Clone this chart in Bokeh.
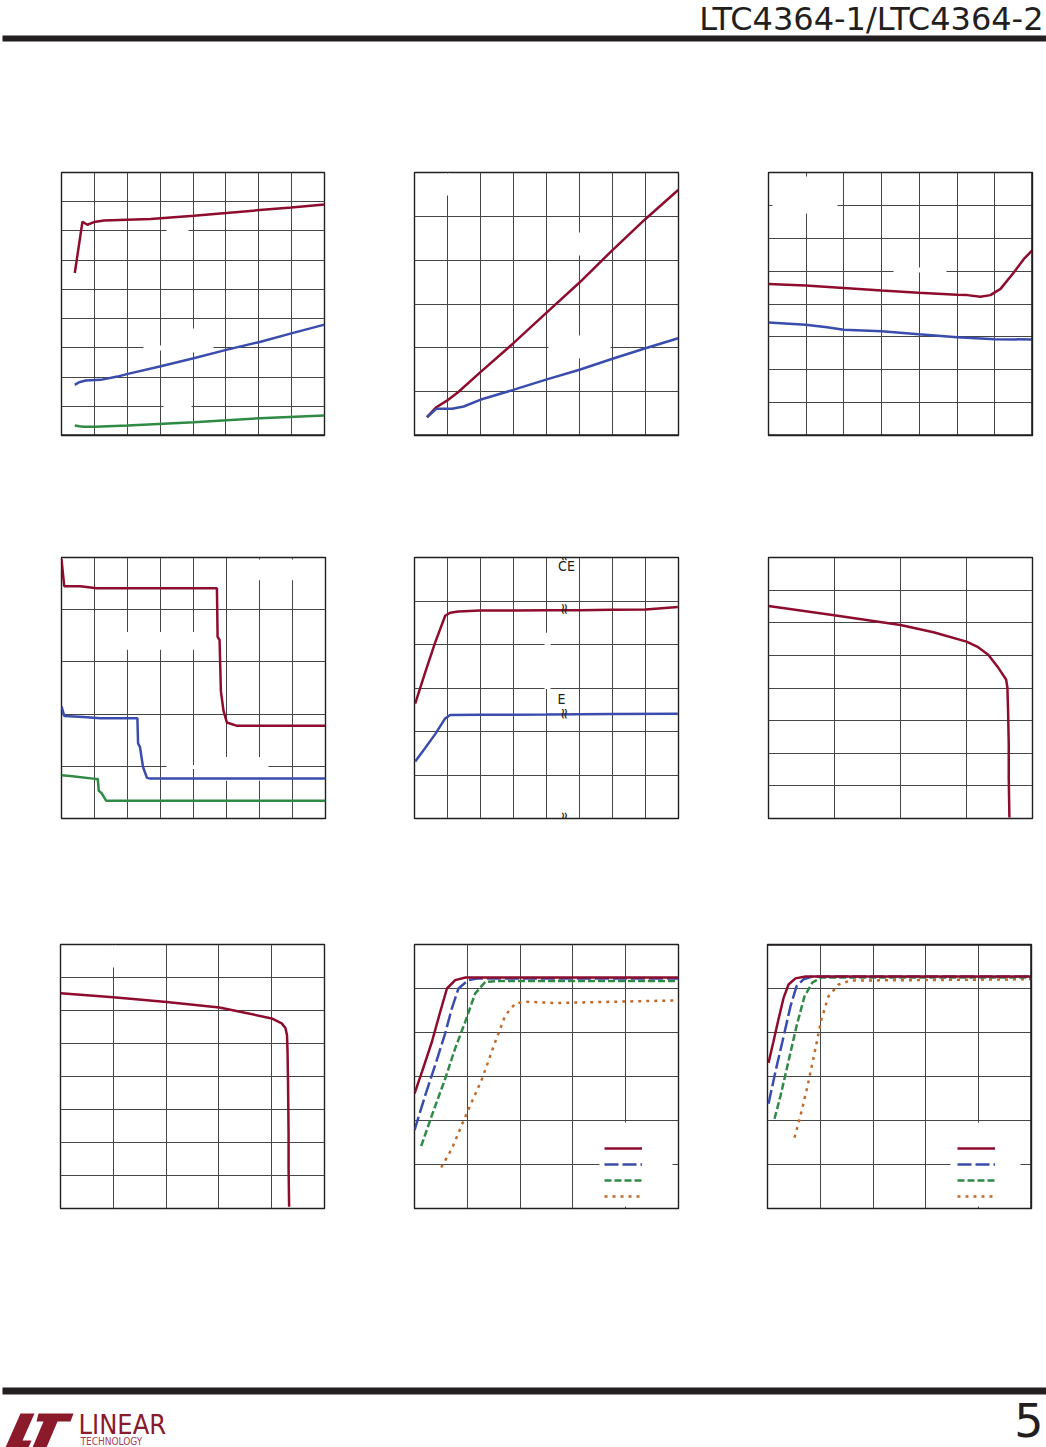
import math
from bokeh.plotting import figure
from bokeh.models import (Range1d, Grid, FixedTicker, BoxAnnotation, Label, Legend,
                          LegendItem, Span)
from bokeh.layouts import column, row
from bokeh.embed import file_html
from bokeh.resources import INLINE

# ---------------- DATA ----------------
# Panel 1 (x 0..80, y 0..450)
p1_red_x = [4.04, 6.37, 7.88, 9.9, 12.9, 27.1, 40.3, 50.1, 60.3, 69.9, 80.0]
p1_red_y = [278, 365.7, 360.6, 365.2, 368, 370.3, 376, 380.6, 385.7, 390.2, 395.3]
p1_blue_x = [4.04, 5.35, 7.38, 11.9, 17.0, 20.2, 30.2, 40.2, 50.1, 60.3, 69.9, 80.0]
p1_blue_y = [86.6, 91.1, 94.0, 95.2, 100.8, 105.4, 118.4, 132.1, 146.5, 160.1, 174.8, 189.7]
p1_green_x = [4.04, 5.35, 6.86, 10.2, 20.2, 40.2, 60.3, 80.0]
p1_green_y = [17.1, 15.9, 14.9, 14.9, 17.1, 22.7, 29.6, 34.2]

# Panel 2 (x 0..80, y 0..60)
p2_red_x = [3.77, 6.62, 10.2, 13.2, 19.9, 29.9, 40.1, 50.0, 60.0, 70.0, 79.9]
p2_red_y = [4.17, 6.45, 8.14, 9.87, 14.4, 21.0, 28.1, 34.9, 42.3, 49.4, 56.0]
p2_blue_x = [3.77, 6.62, 11.4, 14.9, 19.9, 29.9, 40.1, 50.0, 60.0, 70.0, 79.9]
p2_blue_y = [4.17, 6.08, 6.08, 6.61, 8.14, 10.4, 12.8, 15.0, 17.5, 19.9, 22.2]

# Panel 3 (x -50..125, y 0..8)
p3_red_x = [-50, -25.4, -0.2, 25.0, 49.5, 75.0, 81.7, 90.5, 97.1, 103.8, 112.6, 119.3, 125]
p3_red_y = [4.61, 4.56, 4.49, 4.41, 4.34, 4.28, 4.27, 4.22, 4.27, 4.46, 4.96, 5.37, 5.64]
p3_blue_x = [-50, -25.4, -11.2, -0.2, 25, 49.5, 75, 100.2, 125]
p3_blue_y = [3.44, 3.37, 3.29, 3.22, 3.17, 3.08, 2.99, 2.93, 2.92]

# Panel 4 (x 0..80, y 0..50)
p4_red_x = [0, 0.82, 5.67, 10.7, 47.1, 47.3, 47.9, 48.3, 49.1, 50.1, 53.2, 80]
p4_red_y = [49.7, 44.5, 44.5, 44.1, 44.1, 34.8, 34.2, 24.4, 20.6, 18.4, 17.75, 17.75]
p4_blue_x = [0, 0.82, 6.67, 11.7, 23.0, 23.2, 23.8, 24.7, 25.9, 26.9, 80]
p4_blue_y = [21.5, 19.65, 19.46, 19.2, 19.2, 14.4, 13.66, 9.86, 7.78, 7.64, 7.64]
p4_green_x = [0, 2.64, 10.2, 11.0, 11.3, 12.2, 13.5, 80]
p4_green_y = [8.27, 8.16, 7.59, 7.59, 5.31, 4.80, 3.41, 3.41]

# Panel 5 (x 0..80, y 0..60)
p5_red_x = [0.21, 3.24, 6.27, 9.3, 10.8, 13.3, 19.9, 30.0, 40.1, 50.0, 60.0, 70.0, 79.8]
p5_red_y = [26.4, 33.6, 40.5, 46.6, 47.3, 47.6, 47.8, 47.8, 47.9, 47.9, 48.0, 48.06, 48.6]
p5_blue_x = [0.21, 3.24, 6.27, 9.3, 10.8, 19.9, 40.1, 60.0, 79.8]
p5_blue_y = [13.1, 16.2, 19.4, 23.0, 23.8, 23.85, 23.9, 24.0, 24.1]
p5_labels = ["CE", "E"]

# Panel 6 (x 0..40, y 0..80)
p6_x = [0, 9.95, 20.0, 25.0, 30.0, 31.6, 33.3, 34.85, 36.0, 36.2, 36.3, 36.4, 36.4, 36.5]
p6_y = [65.1, 62.3, 59.3, 57.1, 54.2, 52.7, 50.2, 46.1, 42.6, 40.1, 33.0, 22.9, 12.7, 0.3]

# Panel 7 (x 0..50, y 0..80)
p7_x = [0, 10.0, 20.1, 30.1, 34.7, 40.0, 41.9, 42.6, 42.9, 43.0, 43.1, 43.2, 43.2, 43.3]
p7_y = [65.2, 64.0, 62.6, 60.9, 59.4, 57.6, 56.1, 54.7, 52.5, 47.5, 37.4, 22.2, 12.1, 0.5]

# Panel 8 (x 0..50, y 0..60)
p8_red_x = [0, 1.4, 3.3, 4.87, 6.14, 7.71, 9.66, 17.2, 50]
p8_red_y = [26.1, 31.0, 37.9, 44.7, 50.0, 51.9, 52.5, 52.5, 52.5]
p8_blue_x = [0, 2.03, 3.92, 5.81, 7.08, 8.33, 10.2, 12.1, 50]
p8_blue_y = [17.8, 25.7, 32.6, 39.8, 45.5, 50.0, 51.9, 52.3, 52.3]
p8_green_x = [1.27, 3.3, 5.81, 7.71, 9.6, 11.5, 13.4, 15.9, 50]
p8_green_y = [14.2, 21.2, 29.5, 36.4, 42.4, 48.9, 51.5, 51.7, 51.7]
p8_orange_x = [5.06, 7.08, 9.6, 12.8, 15.3, 17.2, 19.1, 21.0, 26.6, 50]
p8_orange_y = [9.32, 13.6, 20.8, 29.5, 37.9, 43.9, 46.6, 47.0, 46.7, 47.3]

# Panel 9 (x 0..50, y 0..60)
p9_red_x = [0.19, 1.14, 2.08, 3.03, 3.98, 5.30, 7.20, 50]
p9_red_y = [33.1, 38.0, 43.0, 47.8, 50.9, 52.3, 52.75, 52.75]
p9_blue_x = [0.19, 1.52, 2.84, 4.36, 5.49, 6.82, 8.52, 50]
p9_blue_y = [23.8, 31.2, 38.0, 46.0, 50.5, 52.1, 52.75, 52.75]
p9_green_x = [1.33, 2.46, 3.98, 5.49, 7.0, 8.52, 10.4, 50]
p9_green_y = [20.4, 25.6, 33.5, 41.4, 48.2, 51.4, 52.5, 52.5]
p9_orange_x = [5.11, 6.25, 7.58, 8.9, 10.2, 11.55, 13.45, 15.7, 50]
p9_orange_y = [16.1, 21.1, 27.8, 35.3, 43.0, 48.2, 50.9, 51.8, 52.1]

header_text = "LTC4364-1/LTC4364-2"
page_number = "5"
logo_word = "LINEAR"
logo_sub = "TECHNOLOGY"

# ---------------- STYLE ----------------
RED = "#8e0c2d"
BLUE = "#3a4cad"
GREEN = "#2f8a45"
ORANGE = "#c06a2c"
GRIDC = "#454545"
FRAME = "#231f20"
LW = 2.5
NARROW = "'Liberation Sans Narrow', 'DejaVu Sans Condensed', 'Liberation Sans'"


def strip_grids(p):
    p.center = [c for c in p.center if not isinstance(c, Grid)]


def to_data(frame, xr, yr, px, py):
    lx, ty, w, h = frame
    x = xr[0] + (px - lx) / w * (xr[1] - xr[0])
    y = yr[0] + (ty + h - py) / h * (yr[1] - yr[0])
    return x, y


def make_panel(fig_box, frame, xr, yr, xticks, yticks, gaps=(), thick=()):
    fx, fy, fw, fh = fig_box
    lx, ty, w, h = frame
    p = figure(width=fw, height=fh, x_range=Range1d(*xr), y_range=Range1d(*yr),
               x_axis_location=None, y_axis_location=None, toolbar_location=None,
               output_backend="svg",
               min_border_left=lx - fx, min_border_top=ty - fy,
               min_border_right=fx + fw - (lx + w), min_border_bottom=fy + fh - (ty + h),
               outline_line_color=FRAME, outline_line_width=1.4,
               background_fill_color="white", border_fill_color="white")
    strip_grids(p)
    p.add_layout(Grid(dimension=0, ticker=FixedTicker(ticks=xticks),
                      grid_line_color=GRIDC, grid_line_width=1.0))
    p.add_layout(Grid(dimension=1, ticker=FixedTicker(ticks=yticks),
                      grid_line_color=GRIDC, grid_line_width=1.0))
    for (x0, x1, y0, y1) in gaps:
        l, t = to_data(frame, xr, yr, x0, y0)
        r, b = to_data(frame, xr, yr, x1, y1)
        p.add_layout(BoxAnnotation(left=l, right=r, top=t, bottom=b, fill_color="white",
                                   fill_alpha=1.0, line_alpha=0, level="underlay"))
    for side in thick:
        if side == "bottom":
            p.add_layout(Span(location=yr[0], dimension="width", line_color=FRAME, line_width=2.6))
        elif side == "top":
            p.add_layout(Span(location=yr[1], dimension="width", line_color=FRAME, line_width=2.6))
        elif side == "right":
            p.add_layout(Span(location=xr[1], dimension="height", line_color=FRAME, line_width=2.6))
    return p


def rng(a, b, s):
    out = []
    v = a + s
    while v < b - 1e-9:
        out.append(round(v, 6))
        v += s
    return out


COLS = [(0, 370), (370, 353), (723, 323)]
ROWS = [(160, 385), (545, 390), (935, 445)]


def box(ci, ri):
    return (COLS[ci][0], ROWS[ri][0], COLS[ci][1], ROWS[ri][1])


# ---- Panel 1
f1 = (61, 172, 263, 263)
x1r, y1r = (0, 80), (0, 450)
p1 = make_panel(box(0, 0), f1, x1r, y1r, rng(0, 80, 10), rng(0, 450, 50),
                gaps=[(166, 188, 228, 233), (143, 213, 345, 350), (191, 196, 328, 352),
                      (163, 191, 403, 408)], thick=["bottom"])
p1.line(p1_red_x, p1_red_y, line_color=RED, line_width=LW)
p1.line(p1_blue_x, p1_blue_y, line_color=BLUE, line_width=LW)
p1.line(p1_green_x, p1_green_y, line_color=GREEN, line_width=LW)

# ---- Panel 2
f2 = (414, 172, 264, 263)
x2r, y2r = (0, 80), (0, 60)
p2 = make_panel(box(1, 0), f2, x2r, y2r, rng(0, 80, 10), rng(0, 60, 10),
                gaps=[(444, 450, 173, 195), (576, 583, 232, 255), (576, 583, 335, 358),
                      (548, 610, 345, 350)], thick=["bottom"])
p2.line(p2_red_x, p2_red_y, line_color=RED, line_width=LW)
p2.line(p2_blue_x, p2_blue_y, line_color=BLUE, line_width=LW)

# ---- Panel 3
f3 = (768, 172, 264, 263)
x3r, y3r = (-50, 125), (0, 8)
p3 = make_panel(box(2, 0), f3, x3r, y3r, rng(-50, 125, 25), rng(0, 8, 1),
                gaps=[(772, 837, 202, 206), (803, 808, 176, 213), (893, 946, 267, 272)],
                thick=["bottom", "right"])
p3.line(p3_red_x, p3_red_y, line_color=RED, line_width=LW)
p3.line(p3_blue_x, p3_blue_y, line_color=BLUE, line_width=LW)

# ---- Panel 4
f4 = (61, 557, 264, 263)
x4r, y4r = (0, 80), (0, 50)
p4 = make_panel(box(0, 1), f4, x4r, y4r, rng(0, 80, 10), rng(0, 50, 10),
                gaps=[(240, 323, 559, 580), (120, 200, 632, 650), (166, 268, 766, 770),
                      (220, 265, 758, 782)])
p4.line(p4_red_x, p4_red_y, line_color=RED, line_width=LW)
p4.line(p4_blue_x, p4_blue_y, line_color=BLUE, line_width=LW)
p4.line(p4_green_x, p4_green_y, line_color=GREEN, line_width=LW)

# ---- Panel 5
f5 = (414, 554, 264, 264)
x5r, y5r = (0, 80), (0, 60)
p5 = make_panel(box(1, 1), f5, x5r, y5r, rng(0, 80, 10), rng(0, 60, 10),
                gaps=[(544, 550, 630, 687)])
p5.line(p5_red_x, p5_red_y, line_color=RED, line_width=LW)
p5.line(p5_blue_x, p5_blue_y, line_color=BLUE, line_width=LW)
for txt, (px, py) in zip(p5_labels, [(566, 563), (561, 697)]):
    lx_, ly_ = to_data(f5, x5r, y5r, px, py)
    p5.add_layout(Label(x=lx_, y=ly_, text=txt, text_align="center", text_baseline="middle",
                        text_font=NARROW, text_font_size="14px", text_color="#231f20"))
for py in [552, 606, 712, 817]:
    lx_, ly_ = to_data(f5, x5r, y5r, 563.5, py)
    p5.add_layout(Label(x=lx_, y=ly_, text="≈", angle=math.pi / 2, text_align="center",
                        text_baseline="middle", text_font="DejaVu Sans", text_font_size="15px",
                        text_color="#231f20"))

# ---- Panel 6
f6 = (768, 557, 264, 263)
x6r, y6r = (0, 40), (0, 80)
p6 = make_panel(box(2, 1), f6, x6r, y6r, rng(0, 40, 10), rng(0, 80, 10))
p6.line(p6_x, p6_y, line_color=RED, line_width=LW)

# ---- Panel 7
f7 = (60, 944, 264, 264)
x7r, y7r = (0, 50), (0, 80)
p7 = make_panel(box(0, 2), f7, x7r, y7r, rng(0, 50, 10), rng(0, 80, 10),
                gaps=[(111, 116, 945, 967)])
p7.line(p7_x, p7_y, line_color=RED, line_width=LW)


def legend_for(p, rends):
    items = [LegendItem(label=" ", renderers=[r]) for r in rends]
    lg = Legend(items=items, location=(190, 5), orientation="vertical",
                border_line_alpha=0, background_fill_alpha=0, padding=0, margin=0,
                spacing=2, glyph_width=38, glyph_height=14, label_height=14,
                label_width=1, label_standoff=0, label_text_font_size="1px")
    p.add_layout(lg)


# ---- Panel 8
f8 = (414, 944, 264, 264)
x8r, y8r = (0, 50), (0, 60)
p8 = make_panel(box(1, 2), f8, x8r, y8r, rng(0, 50, 10), rng(0, 60, 10),
                gaps=[(599, 672, 1162, 1167), (621, 626, 1122, 1206)])
r8o = p8.line(p8_orange_x, p8_orange_y, line_color=ORANGE, line_width=LW, line_dash="3 5")
r8g = p8.line(p8_green_x, p8_green_y, line_color=GREEN, line_width=LW, line_dash="7 3")
r8b = p8.line(p8_blue_x, p8_blue_y, line_color=BLUE, line_width=LW, line_dash="14 4")
r8r = p8.line(p8_red_x, p8_red_y, line_color=RED, line_width=LW)
legend_for(p8, [r8r, r8b, r8g, r8o])

# ---- Panel 9
f9 = (767, 943, 264, 265)
x9r, y9r = (0, 50), (0, 60)
p9 = make_panel(box(2, 2), f9, x9r, y9r, rng(0, 50, 10), rng(0, 60, 10),
                gaps=[(950, 1020, 1162, 1167), (974, 980, 1122, 1206)], thick=["top", "right"])
r9o = p9.line(p9_orange_x, p9_orange_y, line_color=ORANGE, line_width=LW, line_dash="3 5")
r9g = p9.line(p9_green_x, p9_green_y, line_color=GREEN, line_width=LW, line_dash="7 3")
r9b = p9.line(p9_blue_x, p9_blue_y, line_color=BLUE, line_width=LW, line_dash="14 4")
r9r = p9.line(p9_red_x, p9_red_y, line_color=RED, line_width=LW)
legend_for(p9, [r9r, r9b, r9g, r9o])

# ---------------- header & footer ----------------
hdr = figure(width=1046, height=160, x_range=Range1d(0, 1046), y_range=Range1d(160, 0),
             x_axis_location=None, y_axis_location=None, toolbar_location=None,
             output_backend="svg", min_border=0, outline_line_color=None,
             border_fill_color="white", background_fill_color="white")
strip_grids(hdr)
hdr.quad(left=[2], right=[1046], top=[35], bottom=[41], fill_color="#231f20", line_color=None)
hdr.add_layout(Label(x=1043, y=18.5, text=header_text, text_align="right", text_baseline="alphabetic",
                     text_font="DejaVu Sans", text_font_size="32px", text_color="#231f20"))

ftr = figure(width=1046, height=67, x_range=Range1d(0, 1046), y_range=Range1d(1447, 1380),
             x_axis_location=None, y_axis_location=None, toolbar_location=None,
             output_backend="svg", min_border=0, outline_line_color=None,
             border_fill_color="white", background_fill_color="white")
strip_grids(ftr)
ftr.quad(left=[2], right=[1046], top=[1387], bottom=[1394], fill_color="#231f20", line_color=None)
ftr.add_layout(Label(x=1043, y=1419, text=page_number, text_align="right", text_baseline="alphabetic",
                     text_font="DejaVu Sans", text_font_size="46px", text_color="#231f20"))
LOGO = "#8b1a2b"
ftr.patches(xs=[[20, 34, 22, 31, 28, 5], [38, 73, 70, 57, 46, 32, 43, 36]],
            ys=[[1413, 1413, 1440, 1440, 1447, 1447], [1413, 1413, 1421, 1421, 1447, 1447, 1421, 1421]],
            fill_color=LOGO, line_color=None)
ftr.add_layout(Label(x=78, y=1424, text=logo_word, text_align="left", text_baseline="alphabetic",
                     text_font=NARROW, text_font_size="27px", text_color=LOGO))
ftr.add_layout(Label(x=80, y=1441, text=logo_sub, text_align="left", text_baseline="alphabetic",
                     text_font=NARROW, text_font_size="10px", text_color="#a8405a"))

layout = column(hdr,
                row(p1, p2, p3),
                row(p4, p5, p6),
                row(p7, p8, p9),
                ftr)

open("out.html", "w").write(file_html(layout, INLINE))
